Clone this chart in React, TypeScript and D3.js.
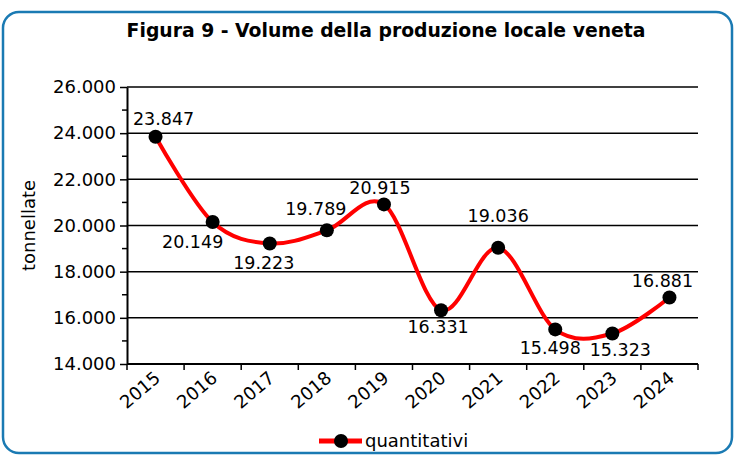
import React, { useEffect, useRef } from "react";
import * as d3 from "d3";

const years = ["2015", "2016", "2017", "2018", "2019", "2020", "2021", "2022", "2023", "2024"];
const quantitativi = [23847, 20149, 19223, 19789, 20915, 16331, 19036, 15498, 15323, 16881];
// data label offsets from each point (x, baseline y)
const labelDx = [8, -20, -6, -11, -4, -3, 0, -5, 8, -7];
const labelDy = [-12, 26, 26, -15, -10, 23, -26, 25, 23, -10];
const yTicks = [14000, 16000, 18000, 20000, 22000, 24000, 26000];

const W = 734;
const H = 457;
const FONT = "'DejaVu Sans', Verdana, sans-serif";

const fmt = (v: number) => d3.format(",")(v).replace(/,/g, ".");

const App = () => {
  const ref = useRef<SVGSVGElement>(null);

  useEffect(() => {
    const svg = d3.select(ref.current);
    svg.selectAll("*").remove();

    const margin = { top: 87, right: 36, bottom: 93, left: 127 };

    // frame
    svg
      .append("rect")
      .attr("x", 3)
      .attr("y", 12)
      .attr("width", 729)
      .attr("height", 441)
      .attr("rx", 16)
      .attr("fill", "#fff")
      .attr("stroke", "#1a7ab3")
      .attr("stroke-width", 2.5);

    svg
      .append("text")
      .attr("x", 386)
      .attr("y", 37)
      .attr("text-anchor", "middle")
      .attr("font-family", FONT)
      .attr("font-weight", "bold")
      .attr("font-size", 18.8)
      .text("Figura 9 - Volume della produzione locale veneta");

    const x = d3
      .scaleBand()
      .domain(years)
      .range([margin.left, W - margin.right]);

    const y = d3
      .scaleLinear()
      .domain([14000, 26000])
      .range([H - margin.bottom, margin.top]);

    // gridlines
    svg
      .append("g")
      .selectAll("line")
      .data(yTicks)
      .join("line")
      .attr("x1", margin.left)
      .attr("x2", W - margin.right)
      .attr("y1", (d) => y(d))
      .attr("y2", (d) => y(d))
      .attr("stroke", "#000")
      .attr("stroke-width", 1.5);

    // minor ticks
    svg
      .append("g")
      .selectAll("line")
      .data(d3.range(15000, 26000, 2000))
      .join("line")
      .attr("x1", margin.left - 5)
      .attr("x2", margin.left)
      .attr("y1", (d) => y(d))
      .attr("y2", (d) => y(d))
      .attr("stroke", "#000")
      .attr("stroke-width", 1.5);

    const yAxis = svg
      .append("g")
      .attr("transform", `translate(${margin.left},0)`)
      .call(d3.axisLeft(y).tickValues(yTicks).tickFormat((d) => fmt(+d)).tickSize(7).tickSizeOuter(0).tickPadding(4));
    yAxis.select(".domain").attr("stroke-width", 2);
    yAxis.selectAll(".tick line").attr("stroke-width", 1.5);
    yAxis.selectAll("text").attr("font-family", FONT).attr("font-size", 18).attr("fill", "#000");

    // x axis with ticks between categories
    const bottom = H - margin.bottom;
    const xg = svg.append("g");
    xg.append("line")
      .attr("x1", margin.left)
      .attr("x2", W - margin.right)
      .attr("y1", bottom)
      .attr("y2", bottom)
      .attr("stroke", "#000")
      .attr("stroke-width", 2);
    xg.selectAll("line.t")
      .data(d3.range(years.length + 1))
      .join("line")
      .attr("class", "t")
      .attr("x1", (i) => margin.left + i * x.step())
      .attr("x2", (i) => margin.left + i * x.step())
      .attr("y1", bottom)
      .attr("y2", bottom + 6)
      .attr("stroke", "#000")
      .attr("stroke-width", 1.5);
    xg.selectAll("text")
      .data(years)
      .join("text")
      .attr("transform", (d) => `translate(${x(d)! + x.bandwidth() / 2 + 6},${bottom + 16}) rotate(-40)`)
      .attr("text-anchor", "end")
      .attr("font-family", FONT)
      .attr("font-size", 18)
      .text((d) => d);

    svg
      .append("text")
      .attr("transform", `translate(35,${(margin.top + bottom) / 2}) rotate(-90)`)
      .attr("text-anchor", "middle")
      .attr("font-family", FONT)
      .attr("font-size", 18)
      .text("tonnellate");

    const cx = (i: number) => x(years[i])! + x.bandwidth() / 2;

    const line = d3
      .line<number>()
      .x((_, i) => cx(i))
      .y((d) => y(d))
      .curve(d3.curveCardinal.tension(0));

    svg
      .append("path")
      .datum(quantitativi)
      .attr("d", line)
      .attr("fill", "none")
      .attr("stroke", "#ff0000")
      .attr("stroke-width", 4);

    svg
      .append("g")
      .selectAll("circle")
      .data(quantitativi)
      .join("circle")
      .attr("cx", (_, i) => cx(i))
      .attr("cy", (d) => y(d))
      .attr("r", 7)
      .attr("fill", "#000");

    svg
      .append("g")
      .selectAll("text")
      .data(quantitativi)
      .join("text")
      .attr("x", (_, i) => cx(i) + labelDx[i])
      .attr("y", (d, i) => y(d) + labelDy[i])
      .attr("text-anchor", "middle")
      .attr("font-family", FONT)
      .attr("font-size", 17.5)
      .text((d) => fmt(d));

    // legend
    const lg = svg.append("g").attr("transform", "translate(319,441)");
    lg.append("line").attr("x1", 0).attr("x2", 43).attr("stroke", "#ff0000").attr("stroke-width", 5);
    lg.append("circle").attr("cx", 22).attr("r", 7).attr("fill", "#000");
    lg.append("text")
      .attr("x", 46)
      .attr("y", 6)
      .attr("font-family", FONT)
      .attr("font-size", 18)
      .text("quantitativi");
  }, []);

  return (
    <svg
      ref={ref}
      width={W}
      height={H}
      style={{ position: "absolute", left: 0, top: 0, display: "block" }}
    />
  );
};

export default App;
